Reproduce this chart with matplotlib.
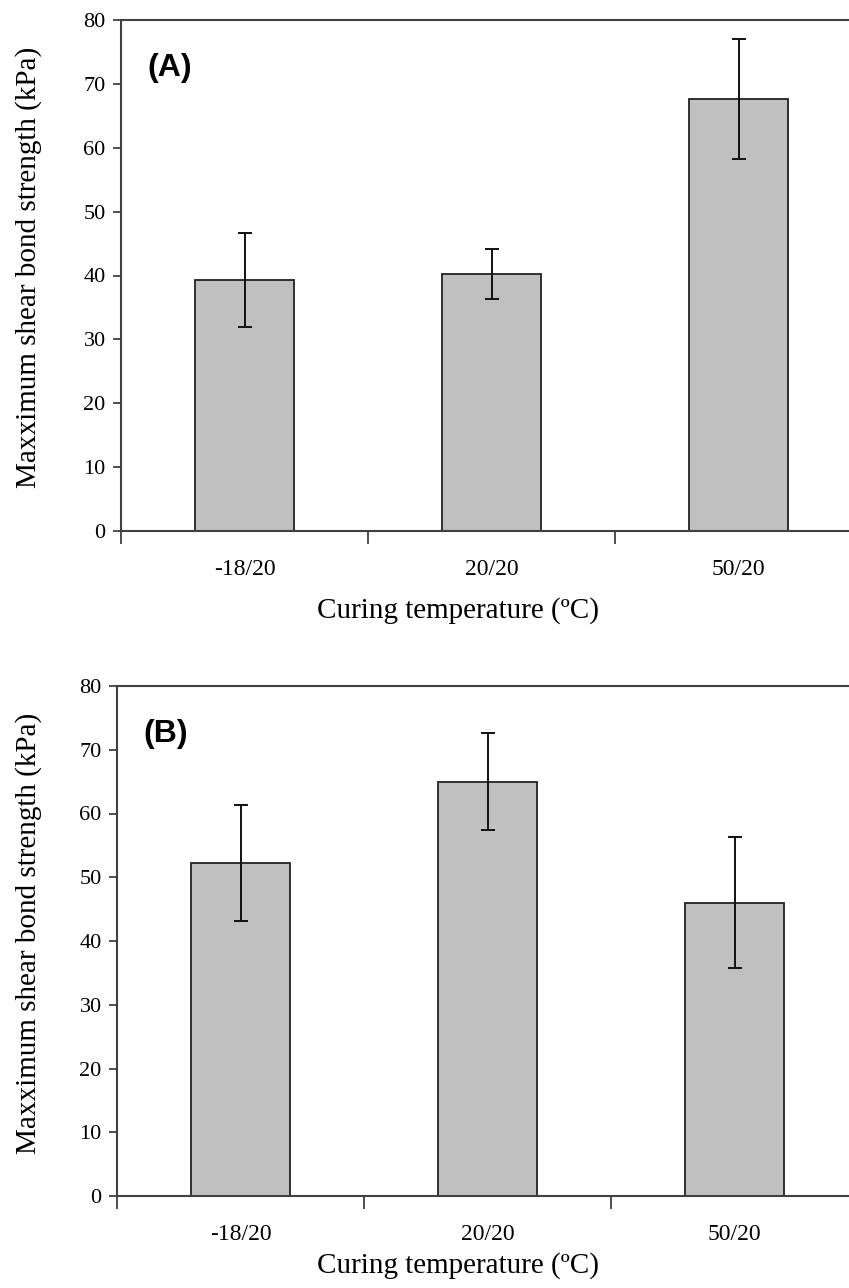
import numpy as np
from matplotlib import pyplot as plt

categories = ["-18/20", "20/20", "50/20"]
strength_a = [39.3, 40.2, 67.6]
error_a = [7.4, 3.9, 9.4]
strength_b = [52.2, 65.0, 46.0]
error_b = [9.1, 7.6, 10.3]
panel_labels = ["(A)", "(B)"]

W, H = 849, 1288
fig = plt.figure(figsize=(W / 100, H / 100), dpi=100)


def panel(left, top, bottom, values, errors, label, xlab_gap):
    # axes reaches a little past the right edge, like the cropped original
    right = left + 3 * 247
    ax = fig.add_axes([left / W, 1 - bottom / H, (right - left) / W, (bottom - top) / H])
    x = np.arange(len(values))
    ax.bar(x, values, width=0.4, color="#c0c0c0", edgecolor="#222222", linewidth=1.3,
           yerr=errors, capsize=5, error_kw=dict(ecolor="#111111", elinewidth=1.4, capthick=1.4),
           zorder=2)
    ax.set_xlim(-0.5, 2.5)
    ax.set_ylim(0, 80)
    ax.set_yticks(range(0, 81, 10))
    ax.set_xticks([-0.5, 0.5, 1.5, 2.5])
    ax.set_xticklabels([])
    ax.set_xticks(x, minor=True)
    ax.set_xticklabels(categories, minor=True, fontsize=17, family="Liberation Serif")
    ax.tick_params(axis="x", which="minor", length=0, pad=20)
    ax.tick_params(axis="x", which="major", length=9, width=1.3, color="#404040", direction="out")
    ax.tick_params(axis="y", length=6, width=1.3, color="#404040", labelsize=16, pad=5)
    for t in ax.get_yticklabels():
        t.set_family("Liberation Serif")
    for s in ["left", "bottom", "top"]:
        ax.spines[s].set_color("#404040")
        ax.spines[s].set_linewidth(1.5)
    ax.spines["right"].set_visible(False)
    ax.set_xlabel("Curing temperature (ºC)", fontsize=21, family="Liberation Serif")
    ax.xaxis.set_label_coords((458 - left) / (right - left), -(xlab_gap + 2) / (bottom - top))
    ax.set_ylabel("Maxximum shear bond strength (kPa)", fontsize=21, family="Liberation Serif")
    ax.yaxis.set_label_coords(-(left - 42) / (right - left), 0.515)
    ax.text(0.035, 0.935, label, transform=ax.transAxes, fontsize=23, fontweight="bold",
            family="Liberation Sans", va="top", ha="left")
    return ax


panel(121, 20, 531, strength_a, error_a, panel_labels[0], 64)
panel(117, 686, 1196, strength_b, error_b, panel_labels[1], 54)

plt.savefig("out.png", dpi=100)
